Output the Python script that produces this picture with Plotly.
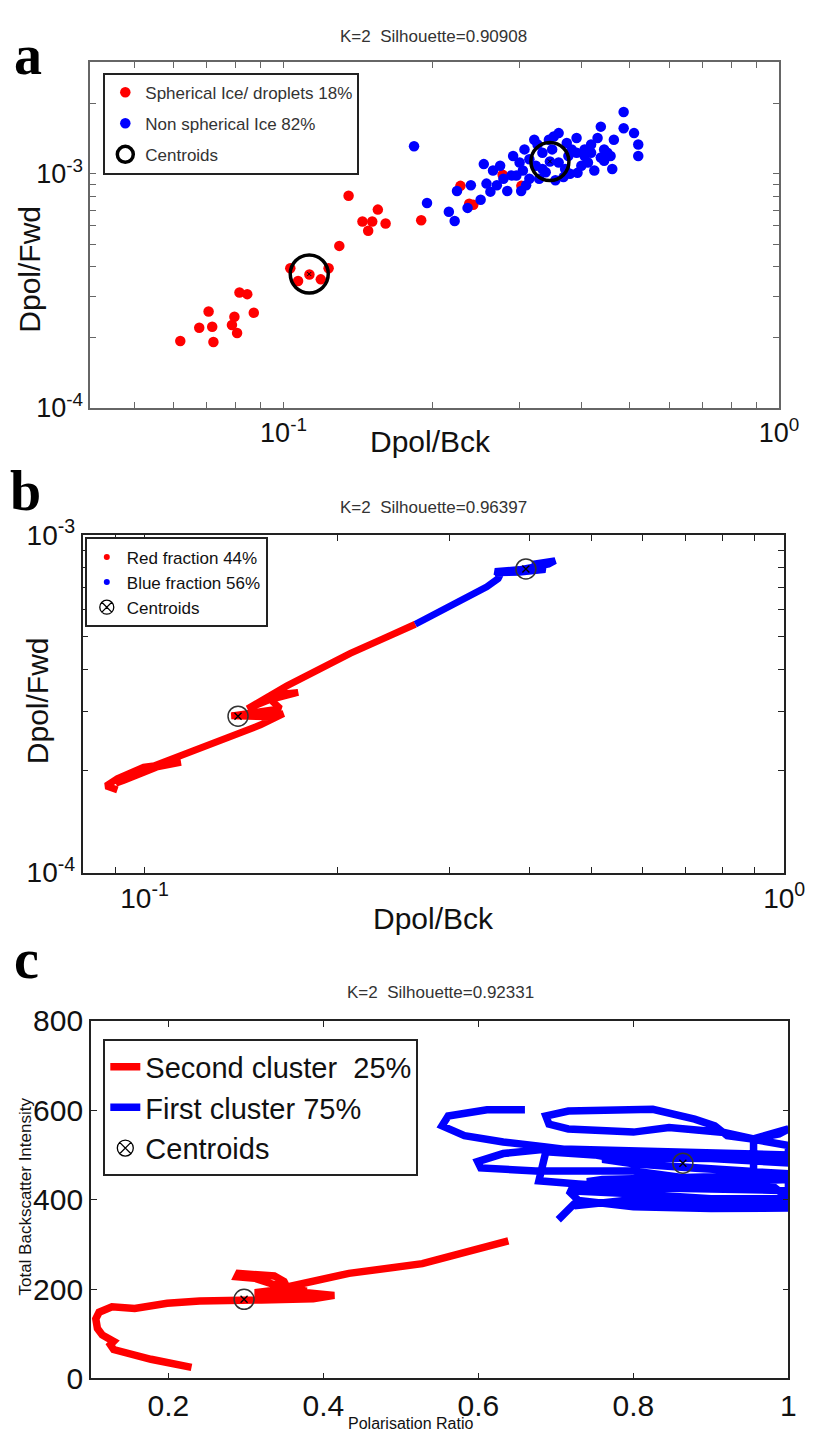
import plotly.graph_objects as go

W, H = 826, 1450
FONT = "Liberation Sans, Arial, sans-serif"
SERIF = "Liberation Serif, Times New Roman, serif"

# ---------------- Panel a : scatter (log-log) ----------------
a_red_x = [0.0619, 0.0676, 0.0718, 0.0722, 0.0706, 0.0787, 0.0796, 0.0806, 0.0815, 0.0845,
           0.0871, 0.1032, 0.1070, 0.1128, 0.1189, 0.1233, 0.1296, 0.1353, 0.1443, 0.1482,
           0.1510, 0.1550, 0.1607, 0.1896, 0.2275, 0.2370, 0.2415, 0.2768, 0.3020]
a_red_y = [1.93e-4, 2.20e-4, 2.22e-4, 1.91e-4, 2.58e-4, 2.26e-4, 2.45e-4, 2.09e-4, 3.11e-4, 3.06e-4,
           2.55e-4, 3.95e-4, 3.48e-4, 3.71e-4, 3.54e-4, 3.95e-4, 4.92e-4, 8.05e-4, 6.25e-4, 5.71e-4,
           6.25e-4, 7.03e-4, 6.13e-4, 6.33e-4, 8.88e-4, 7.45e-4, 7.38e-4, 9.90e-4, 8.88e-4]

a_blue_x = [0.1834, 0.1948, 0.2156, 0.2215, 0.2239, 0.2352, 0.2388, 0.2499, 0.2536, 0.2568,
            0.2647, 0.2736, 0.2828, 0.2884, 0.2906, 0.3017, 0.3041, 0.3064, 0.3134, 0.3255,
            0.3330, 0.3448, 0.3537, 0.3591, 0.3729, 0.3903, 0.3920, 0.4051, 0.4175, 0.4238,
            0.4303, 0.4368, 0.4436, 0.4571, 0.4641, 0.4606, 0.4857, 0.4857, 0.5097, 0.5198,
            0.5198, 0.3134, 0.3230, 0.3330, 0.3381, 0.3484, 0.3591, 0.3700, 0.3757, 0.3814,
            0.3673, 0.3280, 0.2995, 0.2950, 0.3087, 0.2778, 0.2695, 0.2615, 0.4051, 0.4114,
            0.4368, 0.4503, 0.3990, 0.3785, 0.3206, 0.3432, 0.3510, 0.3903, 0.4175, 0.4436]
a_blue_y = [1.312e-3, 7.50e-4, 6.88e-4, 6.29e-4, 8.44e-4, 7.15e-4, 8.94e-4, 7.74e-4, 1.100e-3, 9.08e-4,
            1.032e-3, 1.083e-3, 8.44e-4, 9.84e-4, 1.192e-3, 8.44e-4, 1.032e-3, 1.271e-3, 9.53e-4, 1.334e-3,
            1.049e-3, 1.129e-3, 9.38e-4, 1.492e-3, 1.355e-3, 1.421e-3, 1.009e-3, 1.192e-3, 1.231e-3, 1.032e-3,
            1.421e-3, 1.590e-3, 1.271e-3, 1.192e-3, 1.398e-3, 1.049e-3, 1.835e-3, 1.564e-3, 1.492e-3, 1.334e-3,
            1.192e-3, 1.154e-3, 1.083e-3, 1.231e-3, 1.016e-3, 1.271e-3, 1.118e-3, 1.049e-3, 1.192e-3, 1.271e-3,
            9.68e-4, 9.53e-4, 1.118e-3, 9.84e-4, 8.94e-4, 9.53e-4, 8.94e-4, 8.39e-4, 1.271e-3, 1.118e-3,
            1.173e-3, 1.231e-3, 1.083e-3, 1.000e-3, 1.398e-3, 1.398e-3, 1.444e-3, 1.231e-3, 1.334e-3, 1.136e-3]

a_cent_x = [0.1127, 0.3448]
a_cent_y = [3.73e-4, 1.129e-3]

# ---------------- Panel b : trajectory (log-log) ----------------
b_red_x = [0.0907, 0.0871, 0.0907, 0.0997, 0.1140, 0.1044, 0.0929, 0.0902, 0.0962, 0.1107,
           0.1320, 0.1519, 0.1649, 0.1573, 0.1367, 0.1519, 0.1630, 0.1573, 0.1738, 0.1649,
           0.1449, 0.1669, 0.2097, 0.2357, 0.2650]
b_red_y = [1.758e-4, 1.806e-4, 1.900e-4, 2.053e-4, 2.122e-4, 2.053e-4, 1.879e-4, 1.838e-4, 1.964e-4, 2.170e-4,
           2.478e-4, 2.738e-4, 2.958e-4, 2.893e-4, 2.912e-4, 2.991e-4, 3.058e-4, 3.254e-4, 3.416e-4, 3.379e-4,
           3.058e-4, 3.571e-4, 4.457e-4, 4.922e-4, 5.437e-4]
b_blue_x = [0.2650, 0.2909, 0.3196, 0.3428, 0.3571, 0.3601, 0.3530, 0.3855, 0.4282, 0.4384,
            0.4040, 0.4231, 0.3855, 0.3530]
b_blue_y = [5.437e-4, 5.943e-4, 6.495e-4, 7.019e-4, 7.418e-4, 7.660e-4, 7.785e-4, 7.890e-4, 8.190e-4, 8.380e-4,
            8.190e-4, 7.890e-4, 7.750e-4, 7.720e-4]
b_cent_x = [0.1400, 0.3946]
b_cent_y = [2.905e-4, 7.925e-4]

# ---------------- Panel c : trajectory (linear) ----------------
c_red_x = [0.2298, 0.1775, 0.1293, 0.1251, 0.1293, 0.1146, 0.1084, 0.1063, 0.1105, 0.1272,
           0.1565, 0.1984, 0.2403, 0.2863, 0.3198, 0.3868, 0.4140, 0.3785, 0.3282, 0.3115,
           0.3450, 0.3785, 0.3533, 0.3491, 0.3366, 0.2905, 0.2884, 0.3115, 0.3366, 0.3533,
           0.4329, 0.5276, 0.6386]
c_red_y = [24.7, 42.8, 64.6, 75.4, 82.7, 97.2, 111.7, 133.5, 148.0, 160.3,
           156.7, 168.3, 173.4, 177.0, 175.5, 178.4, 185.7, 191.5, 187.9, 191.5,
           198.7, 195.1, 202.4, 216.9, 229.2, 235.0, 227.7, 224.1, 209.6, 204.5,
           235.0, 256.7, 307.5]
c_blue_x = [0.660, 0.611, 0.561, 0.553, 0.582, 0.632, 0.687, 0.737, 0.800, 0.900, 1.000,
            1.000, 0.900, 0.800, 0.695, 0.632, 0.599, 0.603, 0.674, 0.800, 0.860, 0.930, 1.000,
            1.000, 0.950, 0.880, 0.800, 0.760, 0.780, 0.860, 0.950, 1.000,
            1.000, 0.951, 0.921, 0.905, 0.879, 0.825, 0.800, 0.716, 0.687, 0.691, 0.716, 0.800,
            0.846, 0.917, 0.955, 0.988, 1.000, 0.955, 0.955, 0.900, 0.820, 0.750, 0.687, 0.683,
            0.678, 0.729, 0.800, 0.900, 1.000, 1.000, 0.920, 0.840, 0.760, 0.740, 0.800, 0.900,
            0.980, 1.000, 0.900, 0.800, 0.716, 0.729, 0.800, 0.900,
            1.000, 1.000, 0.880, 0.800, 0.729, 0.729, 0.703]
c_blue_y = [601, 601, 587, 565, 543, 529, 518, 507, 493, 492, 482,
            500, 505, 511, 514, 503, 485, 471, 464, 464, 450, 440, 445,
            458, 462, 470, 480, 490, 500, 498, 495, 490,
            521, 536, 543, 565, 580, 602, 601, 598, 587, 569, 558, 551,
            561, 550, 536, 547, 558, 536, 463, 470, 478, 500, 507, 478,
            442, 435, 427, 424, 420, 455, 452, 448, 445, 440, 432, 438,
            430, 402, 402, 413, 420, 398, 384, 380,
            381, 395, 392, 400, 387, 400, 355]
c_cent_x = [0.2976, 0.8638]
c_cent_y = [177.0, 481.5]

# tick values
a_xmajor = [0.1, 1.0]
a_xminor = [0.05, 0.06, 0.07, 0.08, 0.09, 0.2, 0.3, 0.4, 0.5, 0.6, 0.7, 0.8, 0.9]
a_ymajor = [1e-4, 1e-3]
a_yminor = [2e-4, 3e-4, 4e-4, 5e-4, 6e-4, 7e-4, 8e-4, 9e-4, 2e-3, 3e-3]
b_xmajor = [0.1, 1.0]
b_xminor = [0.09, 0.2, 0.3, 0.4, 0.5, 0.6, 0.7, 0.8, 0.9]
b_ymajor = [1e-4, 1e-3]
b_yminor = [2e-4, 3e-4, 4e-4, 5e-4, 6e-4, 7e-4, 8e-4, 9e-4]
dec_labels = {0.1: "10<sup>-1</sup>", 1.0: "10<sup>0</sup>", 1e-4: "10<sup>-4</sup>", 1e-3: "10<sup>-3</sup>"}
c_xticks = [0.2, 0.4, 0.6, 0.8, 1.0]
c_xtext = ["0.2", "0.4", "0.6", "0.8", "1"]
c_yticks = [0, 200, 400, 600, 800]


def labels(vals):
    return [dec_labels[v] for v in vals]


fig = go.Figure()

# ----- panel a traces -----
fig.add_trace(go.Scatter(x=a_red_x, y=a_red_y, mode="markers", name="Spherical Ice/ droplets 18%",
                         marker=dict(color="#ff0000", size=10.5), legend="legend", legendgroup="a1",
                         xaxis="x", yaxis="y"))
fig.add_trace(go.Scatter(x=a_blue_x, y=a_blue_y, mode="markers", name="Non spherical Ice 82%",
                         marker=dict(color="#0000ff", size=10.5), legend="legend", legendgroup="a2",
                         xaxis="x", yaxis="y"))
fig.add_trace(go.Scatter(x=a_cent_x, y=a_cent_y, mode="markers", name="Centroids",
                         marker=dict(symbol="circle-open", size=38, color="black", line=dict(width=3.5)),
                         legend="legend", legendgroup="a3", xaxis="x", yaxis="y"))
fig.add_trace(go.Scatter(x=a_cent_x, y=a_cent_y, mode="markers", showlegend=False,
                         marker=dict(symbol="x-thin-open", size=4, color="black", line=dict(width=1, color="black")),
                         xaxis="x", yaxis="y"))

# ----- panel b traces -----
fig.add_trace(go.Scatter(x=b_red_x, y=b_red_y, mode="lines", showlegend=False,
                         line=dict(color="#ff0000", width=7), xaxis="x2", yaxis="y2"))
fig.add_trace(go.Scatter(x=b_blue_x, y=b_blue_y, mode="lines", showlegend=False,
                         line=dict(color="#0000ff", width=7), xaxis="x2", yaxis="y2"))
fig.add_trace(go.Scatter(x=b_cent_x, y=b_cent_y, mode="markers", showlegend=False,
                         marker=dict(symbol="circle-open", size=20, color="#333", line=dict(width=1.5)),
                         xaxis="x2", yaxis="y2"))
fig.add_trace(go.Scatter(x=b_cent_x, y=b_cent_y, mode="markers", showlegend=False,
                         marker=dict(symbol="x-thin-open", size=7, color="black", line=dict(width=1.3, color="black")),
                         xaxis="x2", yaxis="y2"))
fig.add_trace(go.Scatter(x=[None], y=[None], mode="markers", name="Red fraction 44%",
                         marker=dict(color="#ff0000", size=6), legend="legend2", legendgroup="b1",
                         xaxis="x2", yaxis="y2"))
fig.add_trace(go.Scatter(x=[None], y=[None], mode="markers", name="Blue fraction 56%",
                         marker=dict(color="#0000ff", size=6), legend="legend2", legendgroup="b2",
                         xaxis="x2", yaxis="y2"))
fig.add_trace(go.Scatter(x=[None], y=[None], mode="markers", name="Centroids",
                         marker=dict(symbol="circle-x-open", size=14, color="black", line=dict(width=1.3)),
                         legend="legend2", legendgroup="b3", xaxis="x2", yaxis="y2"))

# ----- panel c traces -----
fig.add_trace(go.Scatter(x=c_red_x, y=c_red_y, mode="lines", name="Second cluster&nbsp; 25%",
                         line=dict(color="#ff0000", width=7.5), legend="legend3", legendgroup="c1",
                         xaxis="x3", yaxis="y3"))
fig.add_trace(go.Scatter(x=c_blue_x, y=c_blue_y, mode="lines", name="First cluster 75%",
                         line=dict(color="#0000ff", width=7.5), legend="legend3", legendgroup="c2",
                         xaxis="x3", yaxis="y3"))
fig.add_trace(go.Scatter(x=c_cent_x, y=c_cent_y, mode="markers", showlegend=False,
                         marker=dict(symbol="circle-open", size=20, color="#333", line=dict(width=1.5)),
                         xaxis="x3", yaxis="y3"))
fig.add_trace(go.Scatter(x=c_cent_x, y=c_cent_y, mode="markers", showlegend=False,
                         marker=dict(symbol="x-thin-open", size=7, color="black", line=dict(width=1.3, color="black")),
                         xaxis="x3", yaxis="y3"))
fig.add_trace(go.Scatter(x=[None], y=[None], mode="markers", name="Centroids",
                         marker=dict(symbol="circle-x-open", size=16, color="black", line=dict(width=1.3)),
                         legend="legend3", legendgroup="c3", xaxis="x3", yaxis="y3"))


def px_x(p):
    return p / W


def px_y(p):
    return 1 - p / H


def log_axis(dom, rng, major, minor, anchor, linecolor, fsize):
    return dict(domain=dom, type="log", range=rng, tickmode="array", tickvals=major, ticktext=labels(major),
                ticks="inside", ticklen=6, tickwidth=1, tickcolor=linecolor,
                minor=dict(tickmode="array", tickvals=minor, ticks="inside", ticklen=6, tickwidth=1,
                           tickcolor=linecolor, showgrid=False),
                showline=True, linecolor=linecolor, linewidth=1.5, mirror="allticks",
                showgrid=False, zeroline=False, anchor=anchor,
                tickfont=dict(family=FONT, size=fsize, color="#111"))


lin_common = dict(ticks="inside", ticklen=6, tickcolor="#222", showline=True, linecolor="#222",
                  linewidth=1.5, mirror="allticks", showgrid=False, zeroline=False,
                  tickfont=dict(family=FONT, size=30, color="#111"))

layout = dict(
    width=W, height=H, margin=dict(l=0, r=0, t=0, b=0),
    paper_bgcolor="white", plot_bgcolor="white",
    font=dict(family=FONT),
    xaxis=log_axis([px_x(92.6), px_x(799.4)], [-1.39, 0], a_xmajor, a_xminor, "y", "#666", 27),
    yaxis=log_axis([px_y(398), px_y(43)], [-4, -2.522], a_ymajor, a_yminor, "x", "#666", 27),
    xaxis2=log_axis([px_x(84.7), px_x(804.7)], [-1.0969, 0], b_xmajor, b_xminor, "y2", "#222", 28),
    yaxis2=log_axis([px_y(875), px_y(528.3)], [-4, -3], b_ymajor, b_yminor, "x2", "#222", 28),
    xaxis3=dict(domain=[px_x(93.3), px_x(809)], range=[0.1, 1], tickvals=c_xticks, ticktext=c_xtext,
                anchor="y3", **lin_common),
    yaxis3=dict(domain=[px_y(1394), px_y(1027)], range=[0, 800], tickvals=c_yticks,
                anchor="x3", **lin_common),
    legend=dict(x=px_x(106), y=px_y(54), xanchor="left", yanchor="top", bgcolor="white",
                bordercolor="#222", borderwidth=2, font=dict(family=FONT, size=17, color="#333"),
                tracegroupgap=6, itemsizing="trace"),
    legend2=dict(x=px_x(87), y=px_y(531), xanchor="left", yanchor="top", bgcolor="white",
                 bordercolor="#222", borderwidth=2, font=dict(family=FONT, size=17, color="#111"),
                 tracegroupgap=0),
    legend3=dict(x=px_x(106), y=px_y(1046), xanchor="left", yanchor="top", bgcolor="white",
                 bordercolor="#222", borderwidth=2, font=dict(family=FONT, size=29, color="#111"),
                 tracegroupgap=0),
)

ann = []
# panel letters
for letter, xc, yc in [("a", 29, 36), ("b", 26, 483), ("c", 27, 964)]:
    ann.append(dict(text="<b>%s</b>" % letter, x=px_x(xc), y=px_y(yc), xref="paper", yref="paper",
                    showarrow=False, xanchor="center", yanchor="middle",
                    font=dict(family=SERIF, size=56, color="black")))
# titles
for t, xc, yc in [("K=2&nbsp; Silhouette=0.90908", 445, 17),
                  ("K=2&nbsp; Silhouette=0.96397", 445, 500),
                  ("K=2&nbsp; Silhouette=0.92331", 452, 998)]:
    ann.append(dict(text=t, x=px_x(xc), y=px_y(yc), xref="paper", yref="paper", showarrow=False,
                    xanchor="center", yanchor="middle", font=dict(family=FONT, size=17, color="#333")))
# axis titles
axt = [("Dpol/Fwd", 30, 256, -90, 30), ("Dpol/Bck", 442, 433, 0, 30),
       ("Dpol/Fwd", 38, 699, -90, 30), ("Dpol/Bck", 445, 922, 0, 30),
       ("Total Backscatter Intensity", 26, 1207, -90, 17), ("Polarisation Ratio", 422, 1440, 0, 16)]
for t, xc, yc, rot, fs in axt:
    ann.append(dict(text=t, x=px_x(xc), y=px_y(yc), xref="paper", yref="paper", showarrow=False,
                    xanchor="center", yanchor="middle", textangle=rot,
                    font=dict(family=FONT, size=fs, color="#111")))
layout["annotations"] = ann

fig.update_layout(**layout)
fig.write_html("out.html")
